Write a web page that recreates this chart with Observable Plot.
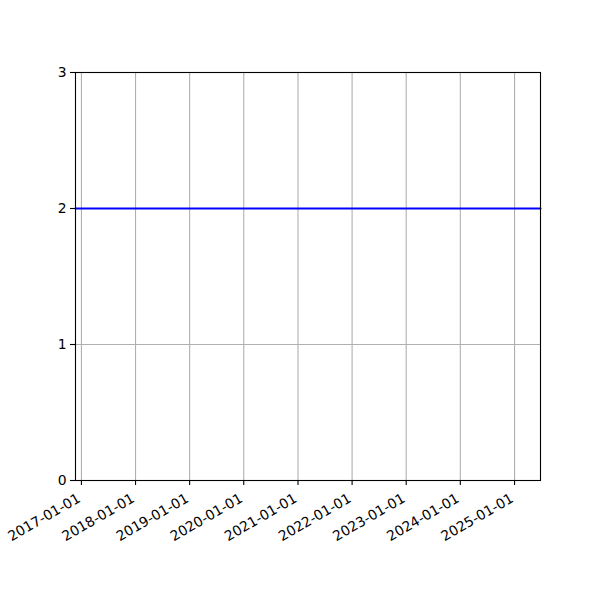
<!DOCTYPE html>
<html><head><meta charset="utf-8">
<script src="https://cdn.jsdelivr.net/npm/d3@7"></script>
<script src="https://cdn.jsdelivr.net/npm/@observablehq/plot@0.6"></script>
<style>body{margin:0;background:#fff}</style>
</head><body><div id="chart"></div>
<script>
const dates = ["2016-11-22", "2025-06-25"];
const values = [2, 2];
const xTickLabels = ["2017-01-01","2018-01-01","2019-01-01","2020-01-01","2021-01-01","2022-01-01","2023-01-01","2024-01-01","2025-01-01"];
const yTicks = [0, 1, 2, 3];

const data = dates.map((d, i) => ({date: new Date(d), value: values[i]}));
const xt = xTickLabels.map(d => new Date(d));
const fmt = d3.utcFormat("%Y-%m-%d");

const chart = Plot.plot({
  width: 600, height: 600,
  marginLeft: 75, marginRight: 60, marginTop: 72, marginBottom: 120,
  style: {fontFamily: "DejaVu Sans", fontSize: "13.9px", background: "white", color: "black"},
  x: {type: "utc", domain: [new Date(dates[0]), new Date(dates[1])]},
  y: {domain: [0, 3]},
  marks: [
    Plot.ruleX(xt, {stroke: "#b0b0b0", strokeWidth: 1.1}),
    Plot.ruleY(yTicks, {stroke: "#b0b0b0", strokeWidth: 1.1}),
    Plot.line(data, {x: "date", y: "value", stroke: "#0000ff", strokeWidth: 2.1}),
    Plot.frame({stroke: "black", strokeWidth: 1.1}),
    Plot.axisY(yTicks, {tickSize: 5, tickPadding: 4, tickFormat: "d", label: null, stroke: "black", strokeWidth: 1.1}),
    Plot.axisX(xt, {tickSize: 5, label: null, text: null, stroke: "black", strokeWidth: 1.1}),
    Plot.text(xt, {x: d => d, text: d => fmt(d), frameAnchor: "bottom", dx: -5, dy: 12, rotate: -30, textAnchor: "end", lineAnchor: "top", fill: "black"})
  ]
});
document.getElementById("chart").append(chart);
</script>
</body></html>
